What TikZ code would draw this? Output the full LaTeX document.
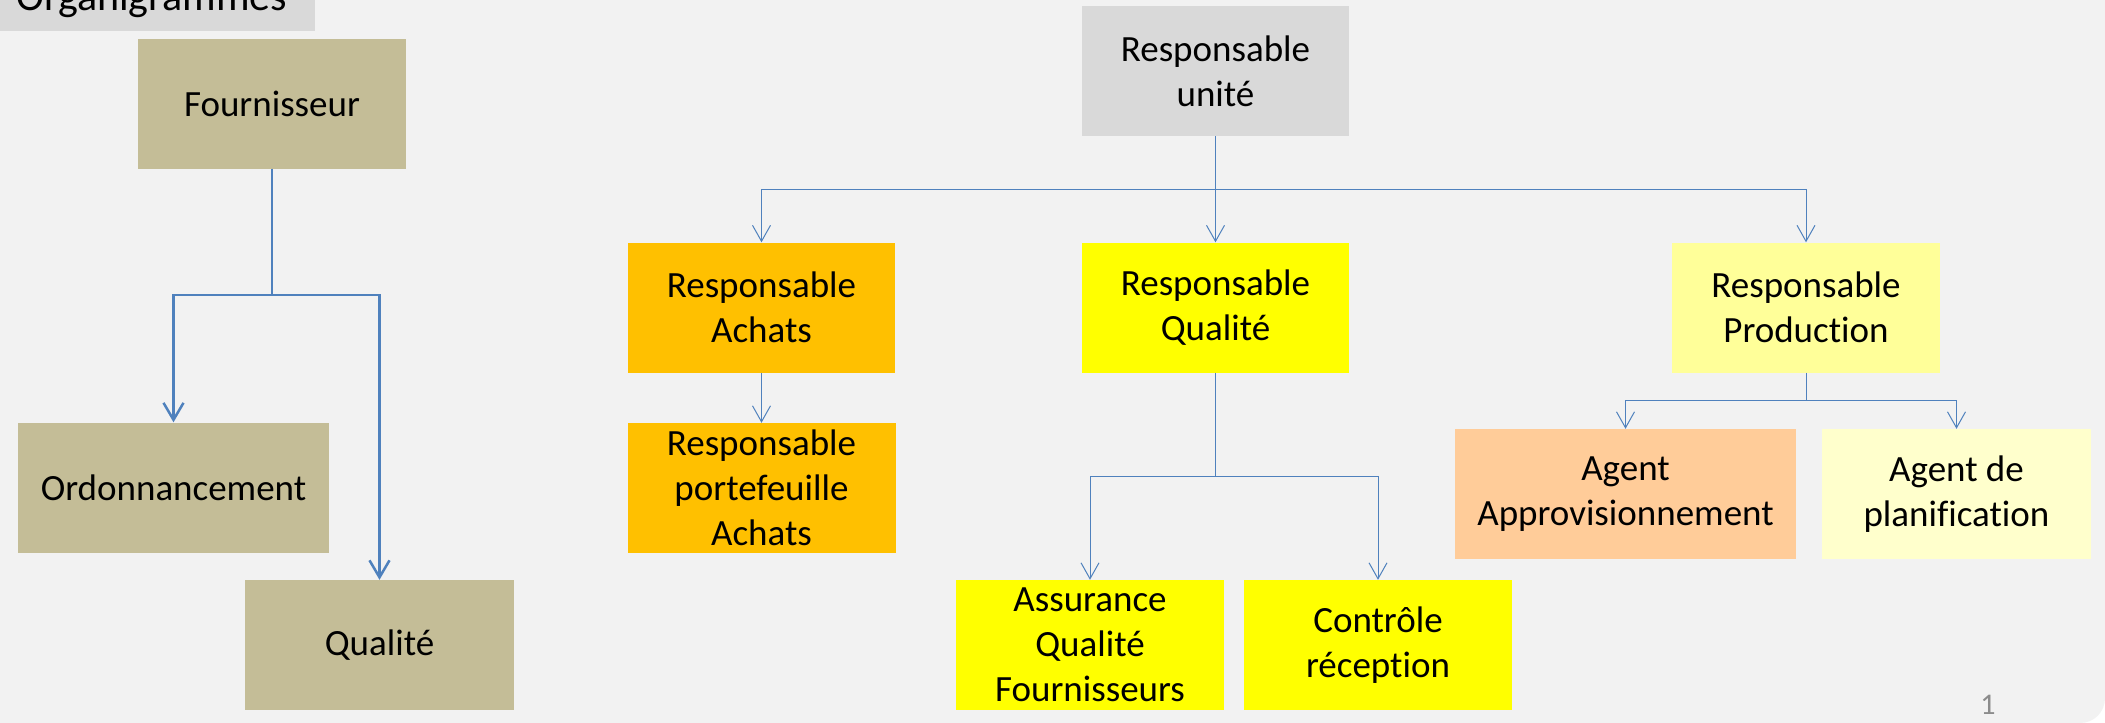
\documentclass[tikz,border=0pt]{standalone}
\usepackage{fontspec}
\setmainfont[Ligatures=NoCommon]{Carlito}
\usepackage{tikz}
\usetikzlibrary{arrows.meta}
\definecolor{slidebg}{HTML}{F2F2F2}
\definecolor{titlegray}{HTML}{D9D9D9}
\definecolor{tan}{HTML}{C4BD97}
\definecolor{achatsorange}{HTML}{FFC000}
\definecolor{qualyellow}{HTML}{FFFF00}
\definecolor{prodyellow}{HTML}{FFFF99}
\definecolor{approorange}{HTML}{FFCC99}
\definecolor{planyellow}{HTML}{FFFFCC}
\definecolor{linkblue}{HTML}{4F81BD}
\definecolor{pagegray}{HTML}{8C8C8C}
\tikzset{
  box/.style={inner sep=0pt, minimum width=268pt, minimum height=130pt, align=center, font=\fontsize{37}{45}\selectfont},
  boldlink/.style={draw=linkblue, line width=2.5pt},
  thinlink/.style={draw=linkblue, line width=1pt},
  barb/.style={-{Straight Barb[length=17pt,width=20pt]}}
}

\begin{document}
\begin{tikzpicture}[x=1pt,y=-1pt]

\useasboundingbox (0,0) rectangle (2105,723);
\clip (0,0) rectangle (2105,723);
\fill[white] (0,0) rectangle (2105,723);
\fill[slidebg] (0,0) -- (2105,0) -- (2105,698) .. controls (2105,712) and (2094,723) .. (2080,723) -- (0,723) -- cycle;

\fill[titlegray] (0,-10) rectangle (315,31);
\node[anchor=base west, inner sep=0pt, font=\fontsize{42}{50}\selectfont] (title) at (16,10) {Organigrammes};

\node[box, fill=tan] (four) at (272,103.5) {Fournisseur};
\node[box, fill=tan, minimum width=311pt] (ord) at (173.5,487.5) {Ordonnancement};
\node[box, fill=tan, minimum width=269pt] (qual) at (379.5,645) {Qualité};

\coordinate (fj) at (272,295);
\draw[boldlink] (four.south) -- (fj);
\draw[boldlink, barb] (fj) -| (ord.north);
\draw[boldlink, barb] (fj) -| (qual.north);

\node[box, fill=titlegray, minimum width=267pt] (unite) at (1215.5,71) {Responsable\\unité};
\node[box, fill=achatsorange, minimum width=267pt] (achats) at (761.5,307.5) {Responsable\\Achats};
\node[box, fill=achatsorange] (port) at (761.5,488) {Responsable\\portefeuille\\Achats};
\node[box, fill=qualyellow, minimum width=267pt] (rq) at (1215.5,307.5) {Responsable\\Qualité};
\node[box, fill=qualyellow] (assur) at (1090,645) {Assurance\\Qualité\\Fournisseurs};
\node[box, fill=qualyellow] (ctrl) at (1378,645) {Contrôle\\réception};
\node[box, fill=prodyellow] (prod) at (1806,307.5) {Responsable\\Production};
\node[box, fill=approorange, minimum width=341pt] (appro) at (1625.5,494) {Agent\\Approvisionnement};
\node[box, fill=planyellow, minimum width=269pt] (plan) at (1956.5,494) {Agent de\\planification};

\coordinate (uj) at (1215.5,189);
\draw[thinlink] (unite.south) -- (uj);
\draw[thinlink, -{Straight Barb[length=16pt,width=18pt]}] (uj) -| (achats.north);
\draw[thinlink, -{Straight Barb[length=16pt,width=18pt]}] (uj) -| (prod.north);
\draw[thinlink, -{Straight Barb[length=16pt,width=18pt]}] (uj) -- (rq.north);
\draw[thinlink, -{Straight Barb[length=16pt,width=18pt]}] (achats.south) -- (port.north);

\coordinate (qj) at (1215.5,476);
\draw[thinlink] (rq.south) -- (qj);
\draw[thinlink, -{Straight Barb[length=16pt,width=18pt]}] (qj) -| (assur.north);
\draw[thinlink, -{Straight Barb[length=16pt,width=18pt]}] (qj) -| (ctrl.north);

\coordinate (pj) at (1806,400);
\draw[thinlink] (prod.south) -- (pj);
\draw[thinlink, -{Straight Barb[length=16pt,width=18pt]}] (pj) -| (appro.north);
\draw[thinlink, -{Straight Barb[length=16pt,width=18pt]}] (pj) -| (plan.north);

\node[anchor=base, inner sep=0pt, text=pagegray, font=\fontsize{30}{36}\selectfont] (pnum) at (1988,714) {1};
\end{tikzpicture}
\end{document}
